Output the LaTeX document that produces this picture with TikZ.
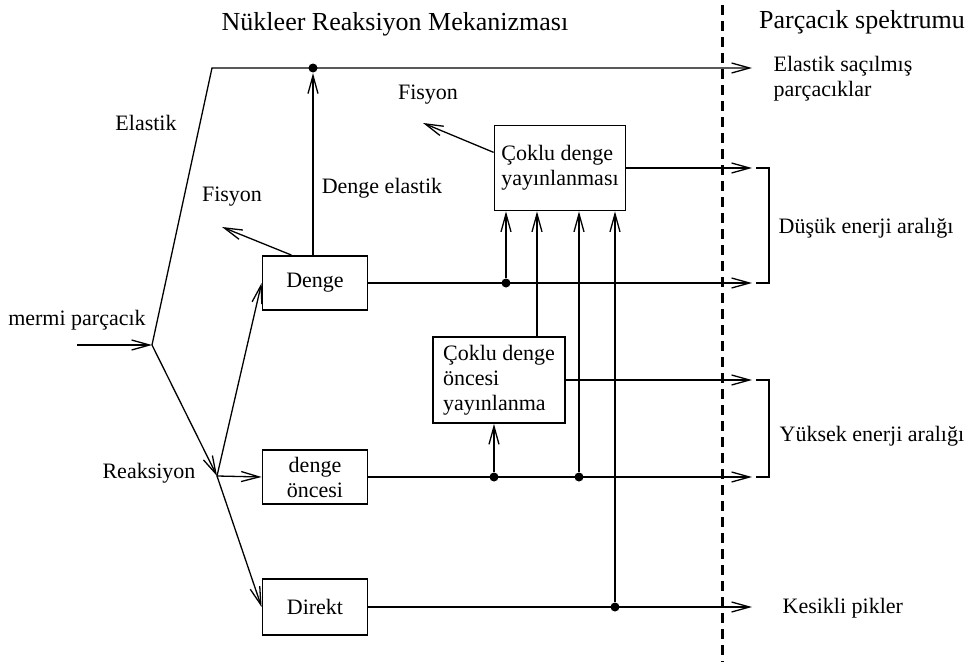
\documentclass[tikz,border=0pt]{standalone}
\usepackage{fontspec}
\setmainfont{Liberation Serif}
\usetikzlibrary{positioning,calc,arrows.meta}

\tikzset{
  box/.style={draw,line width=0.9pt,minimum width=52.5pt,minimum height=27pt,inner sep=2pt},
  lbl/.style={inner sep=0pt},
  arr/.style={-{Straight Barb[length=9pt,width=5pt]}},
  dot/.style={circle,fill,inner sep=0pt,minimum size=4.5pt},
}

\begin{document}
\begin{tikzpicture}[x=0.5pt,y=-0.5pt,line width=0.65pt,font=\fontsize{11}{12.5}\selectfont]
   \useasboundingbox (0,0) rectangle (971,669);
   \node[font=\fontsize{13}{15}\selectfont] (title) at (395,24) {Nükleer Reaksiyon Mekanizması};
   \node[font=\fontsize{13}{15}\selectfont] (spectrum) at (862,22) {Parçacık spektrumu};
   \draw[line width=1.5pt,dash pattern=on 5pt off 3pt] (722,5) -- (722,662);
   \coordinate (end) at (752,0);
   % boxes
   \node[box] (denge) at (315,283) {Denge};
   \node[box,align=center] (oncesi) at (315,477) {denge\\ öncesi};
   \node[box,minimum height=28pt] (direkt) at (315,607) {Direkt};
   \node[box,minimum width=65.5pt,minimum height=42.5pt,align=left] (coklu) at (560,168) {Çoklu denge\\yayınlanması};
   \node[box,minimum width=66pt,minimum height=43pt,align=left] (pre) at (499,380) {Çoklu denge\\öncesi\\yayınlanma};
   % input side
   \node[lbl] (mermi) at (77,320) {mermi parçacık};
   \coordinate (in) at (77,345);
   \coordinate (split) at (152,345);
   \coordinate (elbow) at (212,68);
   \coordinate (react) at (217,476);
   \node[dot] (top) at (313,68) {};
   \node[lbl] (elastik) at (146,123) {Elastik};
   \node[lbl] (reaksiyon) at (149,473) {Reaksiyon};
   \node[lbl] (delastik) at (382,188) {Denge elastik};
   \draw[arr] (in) -- (split);
   \draw[arr] (split) -- (elbow) -- (elbow -| end);
   \draw[arr] (top |- denge.north) -- (top);
   \draw[arr] (split) -- (react);
   \draw[arr] (react) -- (denge.west);
   \draw[arr] (react) -- (oncesi.west);
   \draw[arr] (react) -- (direkt.west);
   % fission
   \node[lbl] (fis1) at (232,197) {Fisyon};
   \coordinate (f1) at (222,227);
   \draw[arr] ($(denge.north west)!0.28!(denge.north east)$) -- (f1);
   \node[lbl] (fis2) at (428,95) {Fisyon};
   \coordinate (f2) at (423,123);
   \draw[arr] ($(coklu.north west)!0.32!(coklu.south west)$) -- (f2);
   % outputs
   \draw[arr] (coklu.east) -- (coklu.east -| end);
   \draw[arr] (denge.east) -- (denge.east -| end);
   \draw[arr] (pre.east) -- (pre.east -| end);
   \draw[arr] (oncesi.east) -- (oncesi.east -| end);
   \draw[arr] (direkt.east) -- (direkt.east -| end);
   % feeds into the multi-step boxes
   \node[dot] (d1) at (506,283) {};
   \node[dot] (d2) at (494,477) {};
   \node[dot] (d3) at (579,477) {};
   \node[dot] (d4) at (615,607) {};
   \draw[arr] (d1) -- (d1 |- coklu.south);
   \draw[arr] (d3) -- (d3 |- coklu.south);
   \draw[arr] (d4) -- (d4 |- coklu.south);
   \draw[arr] ($(pre.north)+(38,0)$) -- ($(coklu.south)+(-23,0)$);
   \draw[arr] (d2) -- (d2 |- pre.south);
   % spectrum
   \draw ([xshift=2pt]coklu.east -| end) -| ([xshift=8.5pt]denge.east -| end) -- ([xshift=2pt]denge.east -| end);
   \draw ([xshift=2pt]pre.east -| end) -| ([xshift=8.5pt]oncesi.east -| end) -- ([xshift=2pt]oncesi.east -| end);
   \node[lbl,anchor=west,align=left] (elsac) at (773,79) {Elastik saçılmış\\parçacıklar};
   \node[lbl,anchor=west] (dusuk) at (778,228) {Düşük enerji aralığı};
   \node[lbl,anchor=west] (yuksek) at (779,436) {Yüksek enerji aralığı};
   \node[lbl,anchor=west] (kesikli) at (782,608) {Kesikli pikler};
\end{tikzpicture}
\end{document}
